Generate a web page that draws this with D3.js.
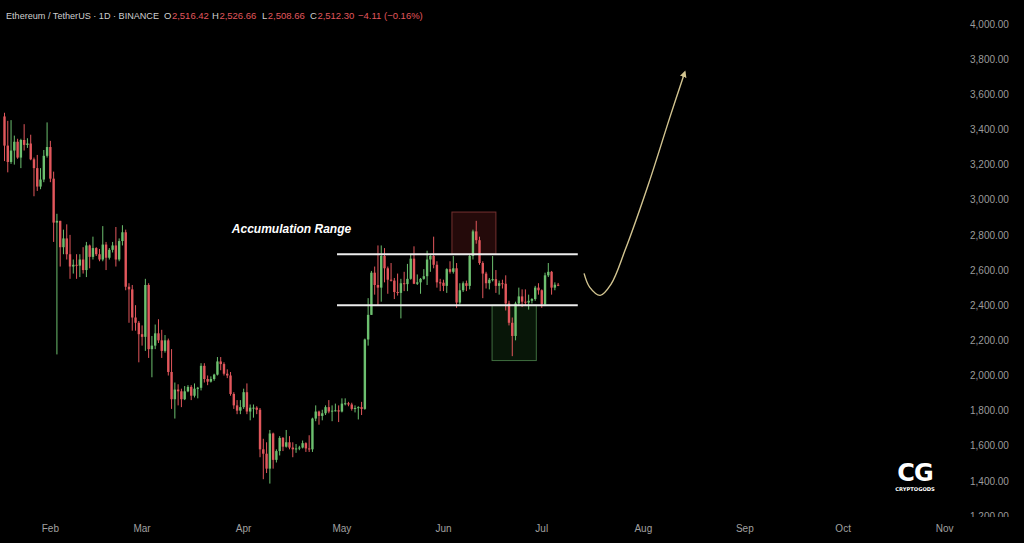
<!DOCTYPE html>
<html><head><meta charset="utf-8">
<script src="https://cdn.jsdelivr.net/npm/d3@7"></script>
<style>html,body{margin:0;padding:0;background:#000;}svg{display:block;}</style>
</head><body>
<svg id="chart" width="1024" height="543"></svg>
<script>
// ---------- DATA (ETH/USDT daily, Binance) ----------
const startDay = "2025-01-18";
const open = [3474,3308,3215,3280,3330,3240,3340,3312,3320,3230,3180,3075,3115,3250,
3300,3120,2870,2880,2730,2780,2690,2620,2630,2625,2660,2600,2740,2675,2725,2690,2660,2745,2670,2715,2740,2660,2765,2815,2505,2490,2330,2300,
2235,2220,2515,2150,2170,2240,2200,2140,2200,2020,1865,1920,1910,1865,1910,1935,1885,1925,1930,2055,1980,1965,1980,2005,2080,2065,2010,2000,1895,1830,1800,
1820,1905,1795,1817,1817,1805,1580,1555,1470,1670,1520,1570,1645,1595,1620,1590,1580,1585,1590,1615,1585,1580,1755,1795,1770,1785,1820,1795,1800,1802,
1795,1840,1842,1835,1810,1815,1820,1810,2205,2345,2585,2515,2500,2680,2610,2545,2540,2475,2470,2525,2520,2550,2665,2522,2530,2550,2565,2660,2680,2630,2530,
2528,2510,2605,2590,2610,2415,2485,2525,2510,2680,2820,2770,2640,2580,2525,2545,2548,2510,2525,2522,2410,2300,2225,2410,2450,2420,2415,2425,2435,2500,
2485,2405,2570,2590,2500,2516.42];
const high = [3495,3449,3453,3365,3347,3347,3430,3350,3370,3240,3255,3180,3283,3440,
3335,3160,2920,2880,2830,2860,2800,2660,2690,2690,2730,2760,2745,2790,2730,2720,2850,2760,2725,2760,2845,2780,2855,2830,2525,2515,2400,2310,
2285,2550,2525,2225,2290,2320,2260,2230,2210,2150,1960,1950,1925,1940,1945,1945,1955,1935,2070,2070,2000,1995,2010,2105,2105,2075,2035,2020,1905,1860,1860,
1925,1955,1835,1835,1825,1815,1640,1620,1690,1675,1580,1655,1650,1690,1655,1620,1610,1600,1630,1620,1660,1760,1830,1800,1805,1830,1860,1830,1840,1830,
1870,1870,1850,1845,1830,1825,1850,2210,2440,2595,2620,2740,2740,2725,2620,2640,2555,2580,2550,2590,2635,2690,2735,2575,2555,2605,2710,2685,2790,2650,2550,
2545,2610,2650,2680,2640,2525,2535,2540,2690,2830,2880,2790,2650,2590,2555,2680,2600,2540,2545,2570,2425,2330,2420,2500,2490,2490,2460,2440,2510,2525,
2490,2585,2640,2595,2530,2526.66];
const low = [3220,3156,3204,3200,3233,3180,3280,3295,3225,3020,3050,3060,3100,3240,
3100,2760,2120,2620,2690,2660,2550,2580,2550,2560,2580,2560,2610,2660,2680,2650,2650,2600,2660,2700,2620,2650,2740,2485,2300,2255,2255,2075,
2170,2140,2100,1990,2150,2185,2100,2130,2000,1810,1755,1830,1820,1860,1905,1860,1875,1870,1915,1960,1945,1960,1970,2000,2030,2000,1985,1885,1810,1780,1780,
1810,1780,1745,1760,1780,1535,1410,1445,1385,1470,1505,1545,1570,1590,1580,1535,1560,1575,1585,1565,1565,1565,1740,1720,1745,1775,1785,1740,1795,1735,
1790,1830,1825,1800,1790,1750,1775,1805,2170,2345,2460,2400,2420,2530,2465,2535,2435,2455,2325,2480,2480,2545,2520,2515,2465,2545,2515,2590,2610,2500,2480,
2480,2470,2580,2580,2385,2405,2475,2480,2490,2660,2750,2630,2440,2495,2490,2535,2470,2460,2495,2370,2285,2110,2200,2400,2390,2400,2375,2410,2425,2460,
2385,2395,2560,2460,2485,2508.66];
const close = [3308,3215,3280,3330,3240,3340,3312,3320,3230,3180,3075,3115,3250,3300,
3120,2870,2880,2730,2780,2690,2620,2630,2625,2660,2600,2740,2675,2725,2690,2660,2745,2670,2715,2740,2660,2765,2815,2505,2490,2330,2300,2235,
2220,2515,2150,2170,2240,2200,2140,2200,2020,1865,1920,1910,1865,1910,1935,1885,1925,1930,2055,1980,1965,1980,2005,2080,2065,2010,2000,1895,1830,1800,1820,
1905,1795,1817,1817,1805,1580,1555,1470,1670,1520,1570,1645,1595,1620,1590,1580,1585,1590,1615,1585,1580,1755,1795,1770,1785,1820,1795,1800,1802,1795,
1840,1842,1835,1810,1815,1820,1810,2205,2345,2585,2515,2500,2680,2610,2545,2540,2475,2470,2525,2520,2550,2665,2522,2530,2550,2565,2660,2680,2630,2530,2528,
2510,2605,2590,2610,2415,2485,2525,2510,2680,2820,2770,2640,2580,2525,2545,2548,2510,2525,2522,2410,2300,2225,2410,2450,2420,2415,2425,2435,2500,2485,
2405,2570,2590,2500,2516.42,2512.30];

const priceTicks = [1200,1400,1600,1800,2000,2200,2400,2600,2800,3000,3200,3400,3600,3800,4000];
const monthTicks = ["2025-02-01","2025-03-01","2025-04-01","2025-05-01","2025-06-01","2025-07-01","2025-08-01","2025-09-01","2025-10-01","2025-11-01"];
const monthLabels = ["Feb","Mar","Apr","May","Jun","Jul","Aug","Sep","Oct","Nov"];

// annotations (in date / price space)
const rangeLevels = [2690, 2400];
const rangeSpan = ["2025-04-29T12:00", "2025-07-12"];
const redZone = {from:"2025-06-03T14:00", to:"2025-06-17", top:2930, bottom:2690};
const greenZone = {from:"2025-06-15T20:00", to:"2025-06-29T08:00", top:2400, bottom:2085};
const projDates = ["2025-07-13T22:00","2025-07-15T16:00","2025-07-18T20:00","2025-07-22T03:00","2025-07-26T10:00","2025-08-02T16:00","2025-08-09T03:00","2025-08-13T16:00"];
const projPrices = [2581,2501,2456,2519,2712,3094,3470,3726];

const header = {symbol:"Ethereum / TetherUS · 1D · BINANCE", o:"2,516.42", h:"2,526.66", l:"2,508.66", c:"2,512.30", chg:"−4.11 (−0.16%)"};

// ---------- DRAW ----------
const svg = d3.select("#chart");
const W = 1024, H = 543;
const parse = s => new Date(s + (s.length === 10 ? "T00:00Z" : "Z"));
const t0 = parse(startDay);
const dates = open.map((_, i) => d3.utcDay.offset(t0, i));

const x = d3.scaleUtc().domain([parse("2025-01-18"), parse("2025-11-01")]).range([4.5, 944.7]);
const y = d3.scaleLinear().domain([1200, 4000]).range([516.1, 24]);

const UP = "#6cbf6f", DOWN = "#e2575c";
const FONT = "Liberation Sans, Arial, sans-serif";

svg.append("rect").attr("width", W).attr("height", H).attr("fill", "#000");

const defs = svg.append("defs");
defs.append("clipPath").attr("id", "pane").append("rect").attr("x", 0).attr("y", 0).attr("width", 963).attr("height", 518);
defs.append("clipPath").attr("id", "axisclip").append("rect").attr("x", 963).attr("y", 0).attr("width", 61).attr("height", 517);
defs.append("marker").attr("id", "arrowhead").attr("viewBox", "0 0 10 10").attr("refX", 6).attr("refY", 5)
  .attr("markerWidth", 6).attr("markerHeight", 6).attr("orient", "auto")
  .append("path").attr("d", "M0,1 L8,5 L0,9 Z").attr("fill", "#d2c490");

const pane = svg.append("g").attr("clip-path", "url(#pane)");

// zones
pane.append("rect")
  .attr("x", x(parse(redZone.from))).attr("y", y(redZone.top))
  .attr("width", x(parse(redZone.to)) - x(parse(redZone.from)))
  .attr("height", y(redZone.bottom) - y(redZone.top))
  .attr("fill", "rgba(140,40,40,0.26)").attr("stroke", "#74302f").attr("stroke-width", 1);
pane.append("rect")
  .attr("x", x(parse(greenZone.from))).attr("y", y(greenZone.top))
  .attr("width", x(parse(greenZone.to)) - x(parse(greenZone.from)))
  .attr("height", y(greenZone.bottom) - y(greenZone.top))
  .attr("fill", "rgba(40,110,40,0.2)").attr("stroke", "#3f6e3f").attr("stroke-width", 1);

// candles
const bw = 2.4;
const candles = pane.append("g").selectAll("g").data(dates).join("g");
candles.append("line")
  .attr("x1", (d) => x(d)).attr("x2", (d) => x(d))
  .attr("y1", (d, i) => y(high[i])).attr("y2", (d, i) => y(low[i]))
  .attr("stroke", (d, i) => close[i] >= open[i] ? UP : DOWN).attr("stroke-width", 1);
candles.append("rect")
  .attr("x", d => x(d) - bw / 2).attr("width", bw)
  .attr("y", (d, i) => y(Math.max(open[i], close[i])))
  .attr("height", (d, i) => Math.max(1, Math.abs(y(open[i]) - y(close[i]))))
  .attr("fill", (d, i) => close[i] >= open[i] ? UP : DOWN);

// range lines
pane.selectAll("line.lvl").data(rangeLevels).join("line").attr("class", "lvl")
  .attr("x1", x(parse(rangeSpan[0]))).attr("x2", x(parse(rangeSpan[1])))
  .attr("y1", d => y(d)).attr("y2", d => y(d))
  .attr("stroke", "#ececec").attr("stroke-width", 2);

// projection arrow
const proj = projDates.map((d, i) => [x(parse(d)), y(projPrices[i])]);
pane.append("path").attr("d", d3.line().curve(d3.curveCatmullRom.alpha(0.5))(proj))
  .attr("fill", "none").attr("stroke", "#d2c490").attr("stroke-width", 1.4)
  .attr("marker-end", "url(#arrowhead)");

// label
pane.append("text").attr("x", 291.5).attr("y", 233).attr("text-anchor", "middle")
  .attr("font-family", FONT).attr("font-size", 12)
  .attr("font-weight", "bold").attr("font-style", "italic").attr("fill", "#ffffff")
  .text("Accumulation Range");

// price axis
const pa = svg.append("g").attr("clip-path", "url(#axisclip)");
pa.selectAll("text").data(priceTicks).join("text")
  .attr("x", 970).attr("y", d => y(d) + 3.6)
  .attr("font-family", FONT).attr("font-size", 10)
  .attr("fill", "#9b9b9b").text(d => d3.format(",.2f")(d));

// time axis
svg.append("g").selectAll("text").data(monthTicks).join("text")
  .attr("x", d => x(parse(d))).attr("y", 532).attr("text-anchor", "middle")
  .attr("font-family", FONT).attr("font-size", 10)
  .attr("fill", "#a0a0a0").text((d, i) => monthLabels[i]);

// header
const hg = svg.append("g").attr("font-family", FONT).attr("font-size", 9.5);
hg.append("text").attr("x", 6).attr("y", 19).attr("fill", "#cfcfcf")
  .attr("textLength", 153).attr("lengthAdjust", "spacingAndGlyphs").text(header.symbol);
const red = "#e0575d";
[["O", header.o, 164], ["H", header.h, 212], ["L", header.l, 262], ["C", header.c, 310]].forEach(([k, v, px]) => {
  const t = hg.append("text").attr("x", px).attr("y", 19);
  t.append("tspan").attr("fill", "#cfcfcf").text(k);
  t.append("tspan").attr("fill", red).attr("dx", 0.5).text(v);
});
hg.append("text").attr("x", 358).attr("y", 19).attr("fill", red).text(header.chg);

// watermark
const wm = svg.append("g");
wm.append("text").attr("x", 915).attr("y", 481).attr("text-anchor", "middle")
  .attr("font-family", "DejaVu Sans, sans-serif").attr("font-weight", "bold").attr("font-size", 24)
  .attr("fill", "#ffffff").attr("letter-spacing", -1).text("CG");
wm.append("text").attr("x", 915).attr("y", 491).attr("text-anchor", "middle")
  .attr("font-family", "DejaVu Sans, sans-serif").attr("font-weight", "bold").attr("font-size", 5.2)
  .attr("fill", "#ffffff").text("CRYPTOGODS");
</script>
</body></html>
